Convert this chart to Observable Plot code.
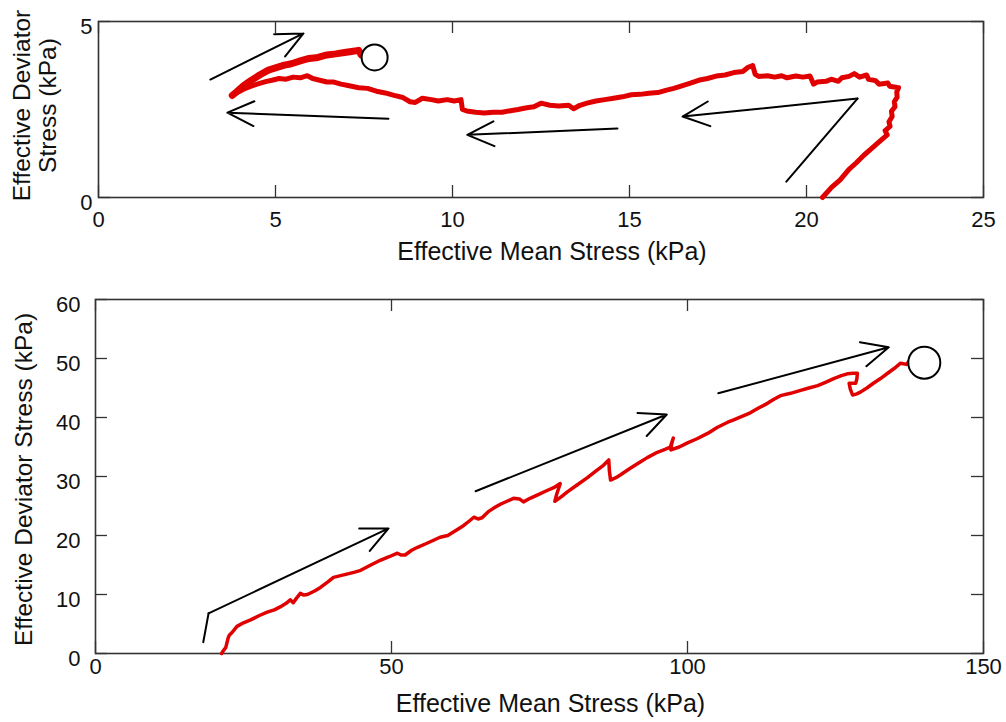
<!DOCTYPE html>
<html><head><meta charset="utf-8">
<script src="https://cdn.jsdelivr.net/npm/d3@7"></script>
<script src="https://cdn.jsdelivr.net/npm/@observablehq/plot@0.6"></script>
<style>body{margin:0;background:#fff;} svg{display:block;} #top,#bottom{width:1006px;}</style>
</head><body><div id="top"></div><div id="bottom"></div>
<script>
// ---------- Top panel data (effective mean stress p', deviator stress q, kPa) ----------
const topP = [20.45,20.70,20.95,21.20,21.40,21.62,21.85,22.05,22.28,22.22,22.36,22.33,22.42,22.40,22.50,22.48,22.56,22.55,22.60,
  22.35,22.30,22.05,21.95,21.75,21.70,21.50,21.35,21.20,21.00,20.90,20.70,20.55,20.30,20.20,20.10,19.90,19.70,19.45,19.30,19.10,18.90,18.65,18.55,18.48,18.35,18.20,17.95,17.70,17.45,17.20,16.95,16.72,16.50,16.25,16.05,15.80,15.55,15.30,15.05,14.80,14.55,14.30,14.05,13.80,13.60,13.42,13.28,13.00,12.75,12.50,12.30,12.10,11.85,11.60,11.40,11.15,10.90,10.65,10.40,10.28,10.24,10.05,9.85,9.60,9.40,9.15,8.95,8.80,8.60,8.35,8.10,7.85,7.60,7.35,7.05,6.85,6.65,6.45,6.25,6.05,5.90,5.70,5.50,5.30,5.10,4.90,4.75,4.55,4.35,4.15,3.95,3.78,
  3.90,4.10,4.30,4.55,4.80,5.00,5.25,5.45,5.70,5.95,6.20,6.45,6.70,6.95,7.15,7.35,7.42];
const topQ = [0.00,0.28,0.50,0.80,0.98,1.20,1.40,1.58,1.78,1.90,2.02,2.15,2.30,2.45,2.58,2.72,2.85,3.00,3.12,
  3.16,3.25,3.22,3.32,3.36,3.48,3.42,3.52,3.44,3.40,3.30,3.36,3.30,3.28,3.22,3.45,3.42,3.45,3.40,3.46,3.42,3.46,3.44,3.50,3.75,3.70,3.58,3.55,3.48,3.45,3.38,3.33,3.25,3.18,3.10,3.05,2.98,2.96,2.93,2.92,2.86,2.82,2.78,2.74,2.68,2.62,2.52,2.62,2.60,2.62,2.68,2.58,2.55,2.50,2.46,2.42,2.42,2.40,2.42,2.46,2.50,2.78,2.74,2.78,2.74,2.78,2.82,2.70,2.72,2.84,2.90,2.97,3.02,3.10,3.12,3.18,3.22,3.28,3.28,3.33,3.38,3.46,3.40,3.42,3.36,3.38,3.33,3.30,3.24,3.18,3.10,3.00,2.90,
  3.00,3.18,3.32,3.48,3.62,3.68,3.76,3.80,3.88,3.95,3.98,4.05,4.08,4.12,4.15,4.18,4.05];
const topEndP = [7.80], topEndQ = [3.98];
// direction arrows (start -> head)
const topArrowX1 = [3.16, 8.19, 14.66, 21.44];
const topArrowY1 = [3.35, 2.24, 1.96, 2.81];
const topArrowX2 = [5.79, 3.64, 10.42, 16.50];
const topArrowY2 = [4.66, 2.41, 1.78, 2.30];
const topLeadX = [19.43, 21.44];
const topLeadY = [0.45, 2.81];
const topXTicks = [0, 5, 10, 15, 20, 25];
const topYTicks = [0, 5];

// ---------- Bottom panel data ----------
const botP = [21.3,21.6,22.0,22.2,22.4,22.6,23.1,23.9,25.0,26.2,27.6,29.0,30.2,31.2,32.2,32.9,33.4,33.9,34.6,35.2,35.8,37.0,38.0,39.2,40.2,41.4,42.6,43.8,44.8,46.5,48.1,49.6,51.0,51.6,52.3,53.4,54.4,55.8,57.1,58.2,59.5,60.8,62.2,63.2,63.9,64.6,65.3,66.3,67.2,68.4,69.5,70.6,71.6,72.3,73.4,74.7,76.0,77.4,78.5,77.9,77.6,78.6,79.7,81.4,83.1,84.5,85.8,86.7,86.8,87.0,87.9,88.7,90.2,91.6,93.2,94.9,96.2,97.1,97.6,97.3,97.2,98.6,100.0,101.6,103.4,105.0,106.8,107.8,109.2,110.6,112.0,113.5,114.6,115.7,117.4,119.1,120.5,122.0,123.4,124.7,126.0,127.0,128.0,128.7,128.6,128.4,127.3,127.5,127.9,128.6,129.2,130.3,131.4,132.6,133.8,134.9,136.0,137.0,137.4];
const botQ = [0.0,0.5,1.0,1.8,2.6,3.1,3.6,4.6,5.2,5.7,6.4,7.0,7.4,7.9,8.5,9.1,8.6,9.3,10.2,9.9,10.0,10.6,11.2,12.1,12.9,13.2,13.5,13.8,14.1,15.0,15.8,16.4,17.0,16.7,16.7,17.5,18.0,18.6,19.2,19.7,20.0,20.8,21.7,22.5,23.1,22.8,23.0,24.0,24.6,25.3,25.8,26.3,26.2,25.7,26.3,26.9,27.5,28.1,28.8,27.0,25.8,26.5,27.4,28.6,29.8,30.9,31.9,32.8,31.0,29.4,29.8,30.3,31.3,32.2,33.2,34.1,34.6,35.0,36.5,35.4,34.5,35.0,35.7,36.4,37.3,38.3,39.2,39.6,40.2,40.8,41.6,42.4,43.1,43.7,44.1,44.6,45.0,45.4,46.0,46.6,47.1,47.4,47.5,47.5,46.5,45.8,45.8,44.8,43.8,44.0,44.3,45.0,45.8,46.6,47.5,48.3,49.2,49.0,49.5];
const botEndP = [140.0], botEndQ = [49.3];
const botArrowX1 = [19.1, 64.2, 105.2];
const botArrowY1 = [6.8, 27.5, 44.1];
const botArrowX2 = [49.5, 96.5, 134.0];
const botArrowY2 = [21.2, 40.5, 51.9];
const botLeadX = [18.2, 19.1];
const botLeadY = [1.9, 6.8];
const botXTicks = [0, 50, 100, 150];
const botYTicks = [0, 10, 20, 30, 40, 50, 60];

const xTitle = "Effective Mean Stress (kPa)";
const yTitleTop = "Effective Deviator\nStress (kPa)";
const yTitleBot = "Effective Deviator Stress (kPa)";

const RED = "#e10000";
const FONT = "'Liberation Sans', Arial, Helvetica, sans-serif";
const zip = (xs, ys) => xs.map((x, i) => ({x, y: ys[i]}));
const arrows = (x1, y1, x2, y2) => x1.map((v, i) => ({x1: v, y1: y1[i], x2: x2[i], y2: y2[i]}));

function panel({W, H, mt, mb, ml, mr, xDomain, yDomain, xTicks, yTicks, curve, branchFrom, branchWidth, curveWidth,
                 lead, arr, endPt, r, xPad, yPad, yTitle, yTitleDx, yTitleDy, xTitleDy}) {
  const fh = H - mt - mb, fw = W - ml - mr, T = 12;
  const marks = [
    Plot.ruleX(xTicks, {stroke: "#333", strokeWidth: 1.3, insetTop: fh - T}),
    Plot.ruleX(xTicks, {stroke: "#333", strokeWidth: 1.3, insetBottom: fh - T}),
    Plot.ruleY(yTicks, {stroke: "#333", strokeWidth: 1.3, insetRight: fw - T}),
    Plot.ruleY(yTicks, {stroke: "#333", strokeWidth: 1.3, insetLeft: fw - T}),
    Plot.frame({stroke: "#333", strokeWidth: 1.6}),
    Plot.axisX({ticks: xTicks, tickSize: 0, tickPadding: xPad, label: null, tickFormat: d => String(d), fontSize: 22, fill: "#111"}),
    Plot.axisY({ticks: yTicks, tickSize: 0, tickPadding: yPad, label: null, tickFormat: d => String(d), fontSize: 22, fill: "#111", dy: 5}),
    Plot.line(curve, {x: "x", y: "y", stroke: RED, strokeWidth: curveWidth, strokeLinejoin: "round", strokeLinecap: "round"}),
  ];
  if (branchFrom != null) marks.push(Plot.line(curve.slice(branchFrom), {x: "x", y: "y", stroke: RED, strokeWidth: branchWidth, strokeLinejoin: "round", strokeLinecap: "round"}));
  marks.push(
    Plot.line(lead, {x: "x", y: "y", stroke: "#000", strokeWidth: 2}),
    Plot.arrow(arr, {x1: "x1", y1: "y1", x2: "x2", y2: "y2", stroke: "#000", strokeWidth: 2, headAngle: 50, headLength: 22}),
    Plot.dot(endPt, {x: "x", y: "y", r, fill: "#fff", stroke: "#000", strokeWidth: 2}),
    Plot.text([xTitle], {frameAnchor: "bottom", textAnchor: "middle", lineAnchor: "middle", dx: 11, dy: xTitleDy, fontSize: 25, fill: "#111"}),
    Plot.text([yTitle], {frameAnchor: "left", textAnchor: "middle", lineAnchor: "middle", rotate: -90, dx: yTitleDx, dy: yTitleDy, fontSize: 24.5, lineHeight: 1.05, fill: "#111"})
  );
  return Plot.plot({
    width: W, height: H, marginTop: mt, marginBottom: mb, marginLeft: ml, marginRight: mr,
    style: {fontFamily: FONT, fontSize: "22px", background: "#fff", color: "#111"},
    x: {domain: xDomain, axis: null},
    y: {domain: yDomain, axis: null},
    marks
  });
}

const topCurve = zip(topP, topQ);
let tipIdx = 0; topP.forEach((v, i) => { if (v < topP[tipIdx]) tipIdx = i; });

document.getElementById("top").appendChild(panel({
  W: 1006, H: 270, mt: 21, mb: 73, ml: 98, mr: 23,
  xDomain: [0, 25], yDomain: [0, 5], xTicks: topXTicks, yTicks: topYTicks,
  curve: topCurve, branchFrom: tipIdx, branchWidth: 7, curveWidth: 5,
  lead: zip(topLeadX, topLeadY), arr: arrows(topArrowX1, topArrowY1, topArrowX2, topArrowY2),
  endPt: zip(topEndP, topEndQ), r: 13, xPad: 14, yPad: 6,
  yTitle: yTitleTop, yTitleDx: -64, yTitleDy: -4, xTitleDy: 54
}));

document.getElementById("bottom").appendChild(panel({
  W: 1006, H: 452, mt: 29, mb: 69, ml: 95, mr: 23,
  xDomain: [0, 150], yDomain: [0, 60], xTicks: botXTicks, yTicks: botYTicks,
  curve: zip(botP, botQ), branchFrom: null, branchWidth: 0, curveWidth: 3.5,
  lead: zip(botLeadX, botLeadY), arr: arrows(botArrowX1, botArrowY1, botArrowX2, botArrowY2),
  endPt: zip(botEndP, botEndQ), r: 16, xPad: 5, yPad: 15,
  yTitle: yTitleBot, yTitleDx: -72, yTitleDy: 3, xTitleDy: 50
}));
</script>
</body></html>
